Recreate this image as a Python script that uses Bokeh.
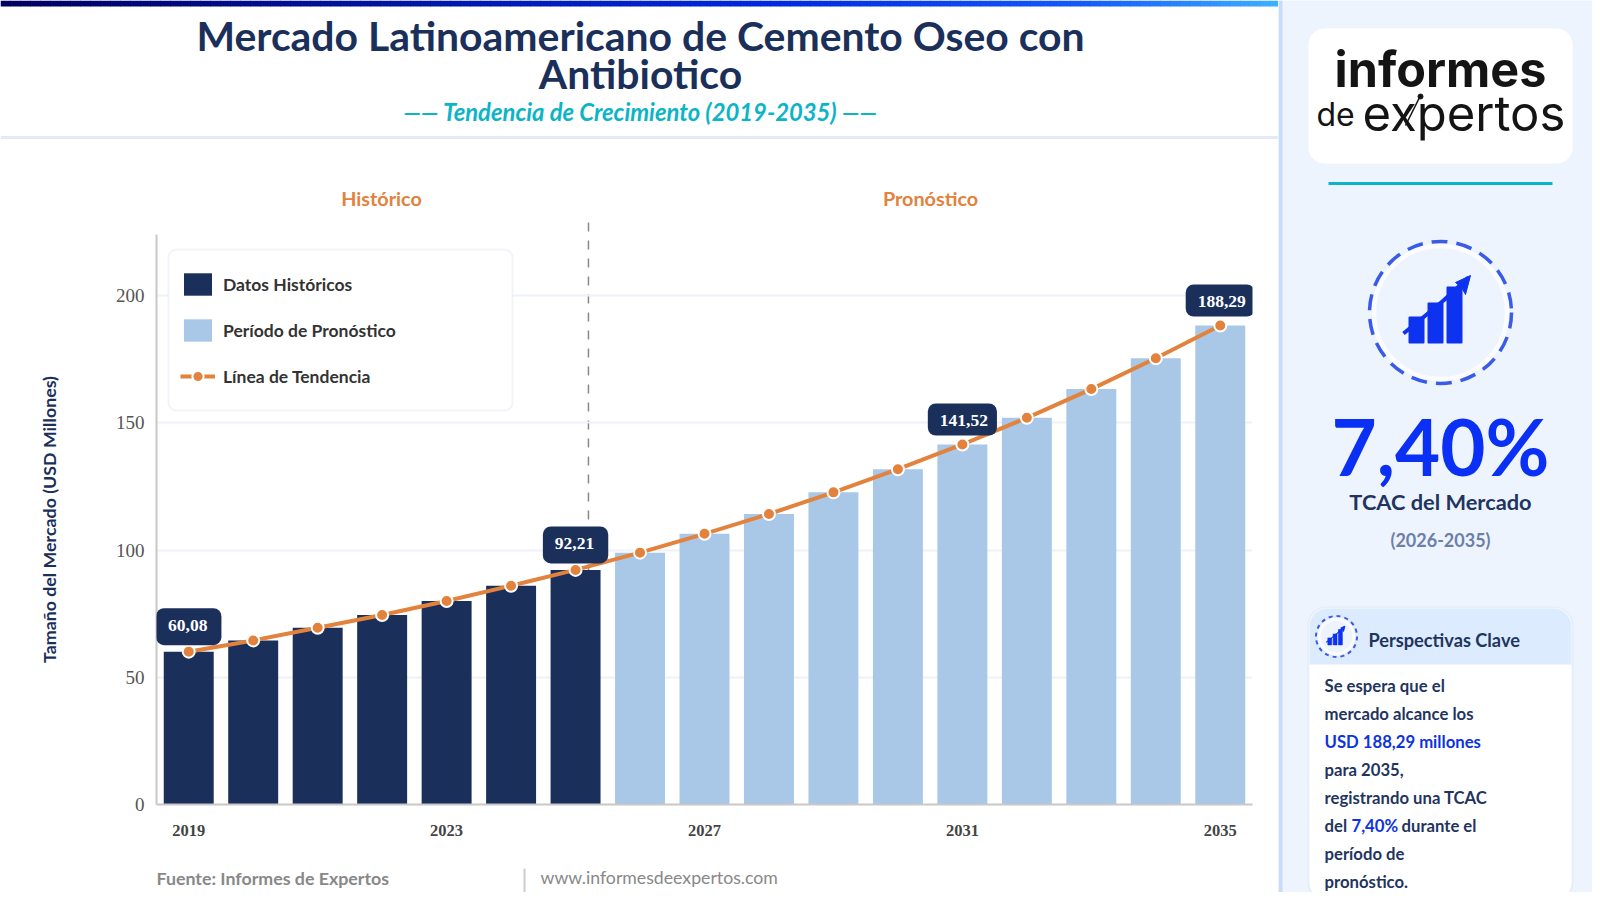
from bokeh.embed import file_html
from bokeh.resources import INLINE
from bokeh.plotting import figure
from bokeh.layouts import row, column
from bokeh.core.properties import value
from bokeh.models import (Range1d, FixedTicker, Label, Legend, LegendItem, BoxAnnotation)

# ---------- data ----------
hist_years = [2019, 2020, 2021, 2022, 2023, 2024, 2025]
hist_values = [60.08, 64.5, 69.5, 74.5, 80.0, 86.0, 92.21]
fore_years = [2026, 2027, 2028, 2029, 2030, 2031, 2032, 2033, 2034, 2035]
fore_values = [99.0, 106.4, 114.2, 122.7, 131.8, 141.52, 152.0, 163.3, 175.4, 188.29]
x_ticks = [2019, 2023, 2027, 2031, 2035]
y_ticks = [0, 50, 100, 150, 200]
callout_years = [2019, 2025, 2031, 2035]
callout_values = [60.08, 92.21, 141.52, 188.29]
callout_texts = ["60,08", "92,21", "141,52", "188,29"]
split_year = 2025.2

NAVY = "#1b2f5b"
LIGHT = "#a9c8e8"
ORANGE = "#e2823c"
BLUE = "#0a2ff5"
TEAL = "#0cb4c8"
SANS = "Lato"
SERIF = "Liberation Serif"


def panel(width, height, xr, yr, bg="#ffffff"):
    f = figure(width=width, height=height, x_range=Range1d(*xr), y_range=Range1d(*yr),
               x_axis_type=None, y_axis_type=None, toolbar_location=None, output_backend="svg",
               min_border=0, min_border_left=0, min_border_right=0, min_border_top=0, min_border_bottom=0,
               background_fill_color=bg, border_fill_color=bg, outline_line_color=None, frame_align=False)
    f.grid.visible = False
    return f


def txt(f, x, y, s, size, color, style="normal", font=SANS, align="left"):
    f.text(x=[x], y=[y], text=[s], text_font=value(font), text_font_size=value(f"{size}px"), text_color=color,
           text_font_style=style, text_align=align, text_baseline="middle")


def lerp(c1, c2, t):
    return tuple(round(a + (b - a) * t) for a, b in zip(c1, c2))


# ---------- header ----------
head = panel(1278, 234, (0, 1278), (234, 0))
stops = [(0, (0, 0, 96)), (0.6, (0, 40, 225)), (0.85, (20, 90, 250)), (1, (60, 175, 255))]
n = 128
lefts, rights, cols = [], [], []
for i in range(n):
    u = i / (n - 1)
    for (a, ca), (b, cb) in zip(stops, stops[1:]):
        if a <= u <= b:
            c = lerp(ca, cb, (u - a) / (b - a))
            break
    lefts.append(i * 10)
    rights.append((i + 1) * 10 + 0.5)
    cols.append("#%02x%02x%02x" % c)
head.quad(left=lefts, right=rights, top=[0] * n, bottom=[6] * n, color=cols, line_color=None)
head.quad(left=[0], right=[1278], top=[135.5], bottom=[138.5], color="#e3eaf5", line_color=None)
txt(head, 640, 34.5, "Mercado Latinoamericano de Cemento Oseo con", 40.9, NAVY, "bold", align="center")
txt(head, 640, 72.5, "Antibiotico", 40.9, NAVY, "bold", align="center")
txt(head, 640, 111, "—— Tendencia de Crecimiento (2019-2035) ——", 23.8, TEAL, "bold italic", align="center")
txt(head, 381, 197, "Histórico", 19.8, ORANGE, "bold", align="center")
txt(head, 930, 197, "Pronóstico", 19.8, ORANGE, "bold", align="center")
head.segment(x0=[588], y0=[222], x1=[588], y1=[231], line_color="#888888", line_width=1.5)

# ---------- chart ----------
p = figure(width=1278, height=616, x_range=Range1d(2018.5, 2035.5), y_range=Range1d(0, 224.06),
           toolbar_location=None, output_backend="svg", min_border_left=156, min_border_right=26,
           min_border_top=0, min_border_bottom=46, outline_line_color=None, frame_align=False,
           background_fill_color="#ffffff", border_fill_color="#ffffff")
p.xgrid.visible = False
p.ygrid.grid_line_color = "#eef1f8"
p.ygrid.grid_line_width = 2
p.ygrid.ticker = FixedTicker(ticks=y_ticks)

p.xaxis.ticker = FixedTicker(ticks=x_ticks)
p.xaxis.major_label_overrides = {y: str(y) for y in x_ticks}
p.xaxis.axis_line_color = "#c8c8c8"
p.xaxis.axis_line_width = 2
p.xaxis.major_tick_line_color = None
p.xaxis.minor_tick_line_color = None
p.xaxis.major_tick_out = 0
p.xaxis.major_tick_in = 0
p.xaxis.major_label_standoff = 20
p.xaxis.major_label_text_font = SERIF
p.xaxis.major_label_text_font_size = "16.5px"
p.xaxis.major_label_text_font_style = "bold"
p.xaxis.major_label_text_color = "#444444"

p.yaxis.ticker = FixedTicker(ticks=y_ticks)
p.yaxis.axis_line_color = "#c8c8c8"
p.yaxis.axis_line_width = 2
p.yaxis.major_tick_line_color = None
p.yaxis.minor_tick_line_color = None
p.yaxis.major_tick_out = 0
p.yaxis.major_tick_in = 0
p.yaxis.major_label_standoff = 12
p.yaxis.major_label_text_font = SERIF
p.yaxis.major_label_text_font_size = "19px"
p.yaxis.major_label_text_color = "#555555"
p.yaxis.axis_label = "Tamaño del Mercado (USD Millones)"
p.yaxis.axis_label_text_font = SANS
p.yaxis.axis_label_text_font_style = "bold"
p.yaxis.axis_label_text_font_size = "17.8px"
p.yaxis.axis_label_text_color = NAVY
p.yaxis.axis_label_standoff = 53

p.segment(x0=[split_year], y0=[221.7], x1=[split_year], y1=[0], line_color="#888888", line_width=1.5,
          line_dash=value("9 9"), level="underlay")

r_hist = p.vbar(x=hist_years, top=hist_values, width=0.775, color=NAVY, line_color=None)
r_fore = p.vbar(x=fore_years, top=fore_values, width=0.775, color=LIGHT, line_color=None)
all_years = hist_years + fore_years
all_values = hist_values + fore_values
r_line = p.line(all_years, all_values, line_color=ORANGE, line_width=4)
r_pts = p.scatter(all_years, all_values, size=12, fill_color=ORANGE, line_color="#ffffff", line_width=2)

p.add_layout(BoxAnnotation(left=168, right=512, top=15, bottom=176,
                           left_units="canvas", right_units="canvas", top_units="canvas", bottom_units="canvas",
                           fill_color="#ffffff", fill_alpha=1, line_color="#d0d9ea", line_width=2, border_radius=8))
legend = Legend(items=[LegendItem(label="Datos Históricos", renderers=[r_hist]),
                       LegendItem(label="Período de Pronóstico", renderers=[r_fore]),
                       LegendItem(label="Línea de Tendencia", renderers=[r_line, r_pts])],
                location=(24, 414), orientation="vertical", glyph_width=35, glyph_height=28,
                spacing=18, padding=16, margin=0, label_standoff=8, label_height=22,
                label_text_font=SANS, label_text_font_size="17.5px", label_text_font_style="bold",
                label_text_color="#333333", background_fill_alpha=0, border_line_color=None)
p.add_layout(legend)

for yr, val, s in zip(callout_years, callout_values, callout_texts):
    pad = 9 if len(s) == 6 else 14
    p.add_layout(Label(x=yr, y=val, text=s, y_offset=25, text_align="center", text_baseline="middle",
                       text_font=SERIF, text_font_style="bold", text_font_size="17.5px", text_color="#ffffff",
                       background_fill_color=NAVY, border_radius=8, padding=(12, pad, 12, pad)))

# ---------- footer ----------
foot = panel(1278, 42, (0, 1278), (892, 850))
txt(foot, 156, 877, "Fuente: Informes de Expertos", 17.8, "#888888", "bold")
foot.segment(x0=[524], y0=[868], x1=[524], y1=[892], line_color="#cccccc", line_width=2)
txt(foot, 540, 877, "www.informesdeexpertos.com", 17.7, "#888888")

# ---------- sidebar ----------
side = panel(314, 892, (1278, 1592), (892, 0), bg="#eef4fe")
side.quad(left=[1278], right=[1282], top=[0], bottom=[892], color="#c8dcf5", line_color=None)

side.add_layout(BoxAnnotation(left=1308, right=1572, top=28, bottom=163, fill_color="#ffffff", fill_alpha=1,
                              line_color=None, border_radius=16, level="underlay"))
txt(side, 1440, 69, "informes", 48.5, "#141414", "bold", "Inter", "center")
txt(side, 1316, 114, "de", 32, "#141414", "normal", "Inter")
txt(side, 1362, 113, "expertos", 49, "#141414", "normal", "Inter")
side.segment(x0=[1405], y0=[125], x1=[1419], y1=[97], line_color="#141414", line_width=1.5)
side.circle(x=[1420], y=[96], radius=2.5, color="#141414")

side.quad(left=[1328], right=[1552], top=[181.5], bottom=[184.5], color=TEAL, line_color=None)


def ring(f, cx, cy, r, lw, dash, s):
    f.circle(x=[cx], y=[cy], radius=r - lw - 1, fill_color="#eef4fe", line_color="#fbfcff", line_width=lw + 1)
    f.circle(x=[cx], y=[cy], radius=r, fill_color=None, line_color="#3a5be8", line_width=lw, line_dash=value(dash))
    f.vbar(x=[cx - 24 * s, cx - 5 * s, cx + 14 * s],
           top=[cy + 5 * s, cy - 9 * s, cy - 25 * s], bottom=[cy + 30 * s] * 3,
           width=14 * s, color="#0d33f0", line_color="#0d33f0", line_join="round", line_width=2 * s)
    f.line([cx - 37 * s, cx - 15 * s, cx + 3 * s, cx + 28 * s], [cy + 21 * s, cy + 3 * s, cy - 12 * s, cy - 35 * s],
           line_color="#0d33f0", line_width=4 * s)
    f.patch([cx + 30 * s, cx + 15 * s, cx + 21 * s, cx + 25 * s],
            [cy - 37 * s, cy - 30 * s, cy - 25 * s, cy - 18 * s], color="#0d33f0")


ring(side, 1440, 312, 71, 3.5, "16 9", 1)

txt(side, 1440, 445, "7,40%", 78, BLUE, "bold", align="center")
txt(side, 1440, 501, "TCAC del Mercado", 21.8, "#1f3560", "bold", align="center")
txt(side, 1440, 539, "(2026-2035)", 18, "#6b7fa8", "bold", align="center")

side.add_layout(BoxAnnotation(left=1308, right=1572, top=607, bottom=900, fill_color="#ffffff", fill_alpha=1,
                              line_color="#c5d8f0", line_width=2, border_radius=18, level="underlay"))
side.add_layout(BoxAnnotation(left=1309, right=1571, top=608, bottom=664, fill_color="#dcebfd", fill_alpha=1,
                              line_color=None, border_radius=(18, 18, 0, 0), level="underlay"))
ring(side, 1336, 636, 20.5, 2, "4 4", 0.28)
txt(side, 1368, 639, "Perspectivas Clave", 18.2, "#1f3560", "bold")

DARK = "#1f3560"
CARD = "#0d33e0"
BODY = 16.7
txt(side, 1324, 685, "Se espera que el", BODY, DARK, "bold")
txt(side, 1324, 713, "mercado alcance los", BODY, DARK, "bold")
txt(side, 1324, 741, "USD 188,29 millones", BODY, CARD, "bold")
txt(side, 1324, 769, "para 2035,", BODY, DARK, "bold")
txt(side, 1324, 797, "registrando una TCAC", BODY, DARK, "bold")
txt(side, 1324, 825, "del", BODY, DARK, "bold")
txt(side, 1351, 825, "7,40%", BODY, CARD, "bold")
txt(side, 1401, 825, "durante el", BODY, DARK, "bold")
txt(side, 1324, 853, "período de", BODY, DARK, "bold")
txt(side, 1324, 881, "pronóstico.", BODY, DARK, "bold")

page = row(column(head, p, foot), side)
open("out.html", "w").write(file_html(page, INLINE))
